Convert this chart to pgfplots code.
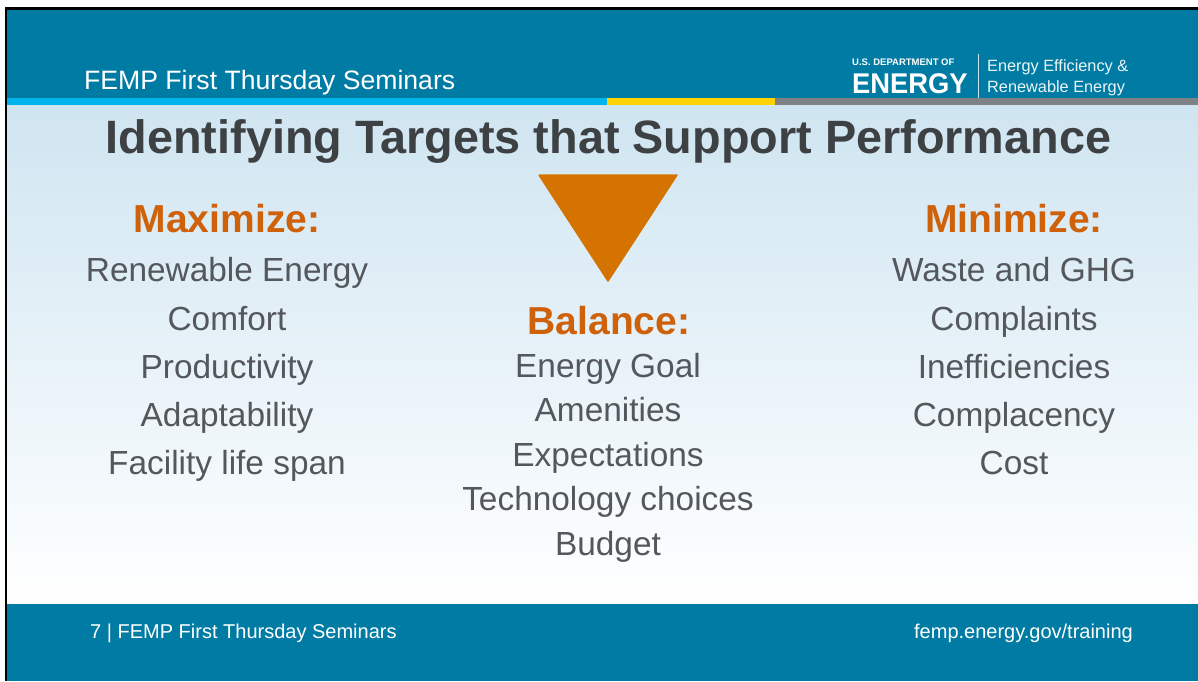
\documentclass[border=0pt]{standalone}
\usepackage{pgfplots}
\pgfplotsset{compat=1.18}
\usepackage{fontspec}
\setmainfont{Liberation Sans}
\definecolor{teal}{HTML}{007BA3}
\definecolor{cyanbar}{HTML}{00B4EE}
\definecolor{yellowbar}{HTML}{FFD200}
\definecolor{graybar}{HTML}{7E8286}
\definecolor{bodytop}{HTML}{CFE5F1}
\definecolor{triorange}{HTML}{D57300}
\definecolor{headorange}{HTML}{CF610A}
\definecolor{titlegray}{HTML}{3E4144}
\definecolor{textgray}{HTML}{54575B}
\newcommand{\fs}[1]{\fontsize{#1}{#1}\selectfont}
\begin{document}
\begin{tikzpicture}
\begin{axis}[
  width=1198pt, height=681pt, scale only axis,
  xmin=0, xmax=1198, ymin=0, ymax=681, y dir=reverse,
  hide axis, no markers, clip=true]
% background
\addplot[fill=white, draw=none] coordinates {(0,0) (1198,0) (1198,681) (0,681)};
% black frame
\addplot[fill=black, draw=none] coordinates {(5,7) (1198,7) (1198,10) (5,10)};
\addplot[fill=black, draw=none] coordinates {(5,7) (7,7) (7,681) (5,681)};
% header
\addplot[fill=teal, draw=none] coordinates {(7,10) (1198,10) (1198,98) (7,98)};
\addplot[fill=cyanbar, draw=none] coordinates {(7,98) (607,98) (607,105) (7,105)};
\addplot[fill=yellowbar, draw=none] coordinates {(607,98) (775,98) (775,105) (607,105)};
\addplot[fill=graybar, draw=none] coordinates {(775,98) (1198,98) (1198,105) (775,105)};
% body gradient
\addplot[draw=none, top color=bodytop, bottom color=white] coordinates {(7,105) (1198,105) (1198,604) (7,604)};
% footer
\addplot[fill=teal, draw=none] coordinates {(7,604) (1198,604) (1198,681) (7,681)};
% triangle
\addplot[fill=triorange, draw=triorange, line join=round, line width=1.5pt] coordinates {(539,175) (677,175) (608,281) (539,175)};
% divider in logo
\addplot[draw=white!80!teal, line width=1pt] coordinates {(978,54) (978,98)};

% header texts
\node[anchor=base west, text=white, inner sep=0pt] at (axis cs:84,89) {\fs{26.6}FEMP First Thursday Seminars};
\node[anchor=base west, text=white, inner sep=0pt] at (axis cs:852,65) {\fs{9.5}\bfseries U.S. DEPARTMENT OF};
\node[anchor=base west, text=white, inner sep=0pt, xscale=0.96] at (axis cs:852,93) {\fs{28.5}\bfseries ENERGY};
\node[anchor=base west, text=white!92!teal, inner sep=0pt] at (axis cs:987,71) {\fs{16.3}Energy Efficiency \&};
\node[anchor=base west, text=white!92!teal, inner sep=0pt] at (axis cs:987,92) {\fs{16.3}Renewable Energy};

% title
\node[anchor=base, text=titlegray, inner sep=0pt] at (axis cs:608.5,153) {\fs{46.8}\bfseries Identifying Targets that Support Performance};

% column heads
\node[anchor=base, text=headorange, inner sep=0pt] at (axis cs:227,232) {\fs{39}\bfseries Maximize:};
\node[anchor=base, text=headorange, inner sep=0pt] at (axis cs:609,334) {\fs{39}\bfseries Balance:};
\node[anchor=base, text=headorange, inner sep=0pt] at (axis cs:1014,232) {\fs{39}\bfseries Minimize:};

% left list
\node[anchor=base, text=textgray, inner sep=0pt] at (axis cs:227,281) {\fs{33.4}Renewable Energy};
\node[anchor=base, text=textgray, inner sep=0pt] at (axis cs:227,330) {\fs{33.4}Comfort};
\node[anchor=base, text=textgray, inner sep=0pt] at (axis cs:227,378) {\fs{33.4}Productivity};
\node[anchor=base, text=textgray, inner sep=0pt] at (axis cs:227,426) {\fs{33.4}Adaptability};
\node[anchor=base, text=textgray, inner sep=0pt] at (axis cs:227,474) {\fs{33.4}Facility life span};

% middle list
\node[anchor=base, text=textgray, inner sep=0pt] at (axis cs:608,377) {\fs{33.4}Energy Goal};
\node[anchor=base, text=textgray, inner sep=0pt] at (axis cs:608,421) {\fs{33.4}Amenities};
\node[anchor=base, text=textgray, inner sep=0pt] at (axis cs:608,466) {\fs{33.4}Expectations};
\node[anchor=base, text=textgray, inner sep=0pt] at (axis cs:608,510) {\fs{33.4}Technology choices};
\node[anchor=base, text=textgray, inner sep=0pt] at (axis cs:608,555) {\fs{33.4}Budget};

% right list
\node[anchor=base, text=textgray, inner sep=0pt] at (axis cs:1014,281) {\fs{33.4}Waste and GHG};
\node[anchor=base, text=textgray, inner sep=0pt] at (axis cs:1014,330) {\fs{33.4}Complaints};
\node[anchor=base, text=textgray, inner sep=0pt] at (axis cs:1014,378) {\fs{33.4}Inefficiencies};
\node[anchor=base, text=textgray, inner sep=0pt] at (axis cs:1014,426) {\fs{33.4}Complacency};
\node[anchor=base, text=textgray, inner sep=0pt] at (axis cs:1014,474) {\fs{33.4}Cost};

% footer
\node[anchor=base west, text=white, inner sep=0pt] at (axis cs:90,638) {\fs{20}7 | FEMP First Thursday Seminars};
\node[anchor=base east, text=white, inner sep=0pt] at (axis cs:1133,638) {\fs{20}femp.energy.gov/training};
\end{axis}
\end{tikzpicture}
\end{document}
